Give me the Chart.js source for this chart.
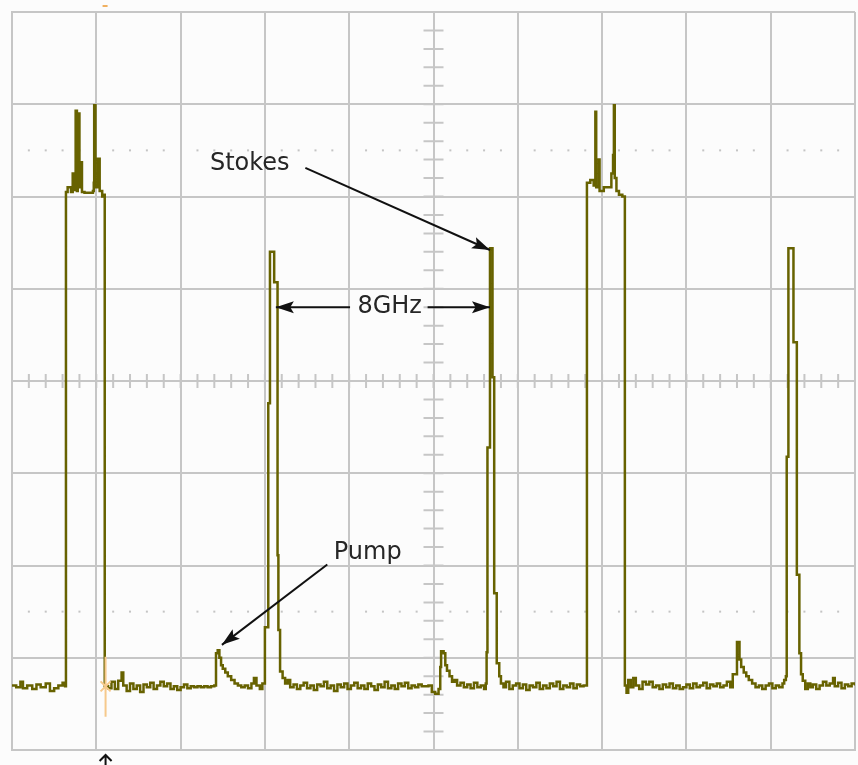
<!DOCTYPE html>
<html>
<head>
<meta charset="utf-8">
<title>Stokes / Pump</title>
<script src="https://cdn.jsdelivr.net/npm/chart.js@4/dist/chart.umd.min.js"></script>
<style>
  html, body { margin: 0; padding: 0; background: #fcfcfc; }
  #wrap { width: 858px; height: 765px; position: relative; }
</style>
</head>
<body>
<div id="wrap"><canvas id="scope"></canvas></div>
<script>
// trace, in divisions (x: 0..10, y: 0..8 from the bottom)
const traceX = [
  0.00, 0.05, 0.10, 0.13, 0.18, 0.24, 0.29, 0.34, 0.40, 0.45, 0.50, 0.55, 0.60, 0.63,
  // first pump pulse
  0.64, 0.66, 0.70, 0.72, 0.74, 0.755, 0.77, 0.78, 0.80, 0.81, 0.83, 0.86, 0.92, 0.96,
  0.97, 0.975, 0.99, 1.02, 1.04, 1.07, 1.09,
  // baseline
  1.10, 1.14, 1.18, 1.22, 1.26, 1.30, 1.32, 1.36, 1.40, 1.44, 1.48, 1.52, 1.56, 1.60,
  1.64, 1.68, 1.72, 1.76, 1.80, 1.84, 1.88, 1.92, 1.96, 2.00, 2.04, 2.08, 2.12, 2.16,
  2.20, 2.24, 2.28, 2.32, 2.36, 2.40,
  // small pump peak
  2.42, 2.44, 2.46, 2.48, 2.50, 2.53, 2.56, 2.60, 2.64, 2.68, 2.72, 2.76, 2.80, 2.84,
  2.87, 2.90, 2.94, 2.97, 2.99,
  // first stokes line
  3.00, 3.04, 3.06, 3.11, 3.15, 3.16, 3.18,
  // baseline
  3.21, 3.24, 3.27, 3.30, 3.34, 3.38, 3.42, 3.46, 3.50, 3.54, 3.58, 3.62, 3.66, 3.70,
  3.74, 3.78, 3.82, 3.86, 3.90, 3.94, 3.98, 4.02, 4.06, 4.10, 4.14, 4.18, 4.22, 4.26,
  4.30, 4.34, 4.38, 4.42, 4.46, 4.50, 4.54, 4.58, 4.62, 4.66, 4.70, 4.74, 4.78, 4.82,
  4.86, 4.90, 4.94, 4.98, 5.02, 5.06,
  // small pump peak
  5.08, 5.09, 5.12, 5.14, 5.16, 5.19, 5.22, 5.25, 5.28, 5.32, 5.36, 5.40, 5.44, 5.48,
  5.52, 5.56, 5.60, 5.62,
  // second stokes line
  5.63, 5.64, 5.67, 5.70, 5.72, 5.75, 5.78, 5.80,
  // baseline
  5.83, 5.86, 5.90, 5.94, 5.98, 6.02, 6.06, 6.10, 6.14, 6.18, 6.22, 6.26, 6.30, 6.34,
  6.38, 6.42, 6.46, 6.50, 6.54, 6.58, 6.62, 6.66, 6.70, 6.74, 6.78,
  // second pump pulse
  6.82, 6.86, 6.90, 6.92, 6.93, 6.96, 6.97, 7.02, 7.08, 7.11, 7.13, 7.14, 7.15, 7.17,
  7.20, 7.24,
  // baseline
  7.27, 7.29, 7.31, 7.34, 7.37, 7.40, 7.44, 7.48, 7.52, 7.56, 7.60, 7.64, 7.68, 7.72,
  7.76, 7.80, 7.84, 7.88, 7.92, 7.96, 8.00, 8.04, 8.08, 8.12, 8.16, 8.20, 8.24, 8.28,
  8.32, 8.36, 8.40, 8.44, 8.48, 8.52,
  // small pump peak
  8.55, 8.60, 8.63, 8.65, 8.68, 8.71, 8.74, 8.78, 8.82, 8.86, 8.90, 8.94, 8.98, 9.02,
  9.06, 9.10, 9.14, 9.16,
  // third stokes line
  9.18, 9.19, 9.21, 9.27, 9.31, 9.34, 9.36, 9.38,
  // baseline
  9.41, 9.44, 9.47, 9.50, 9.54, 9.58, 9.62, 9.66, 9.70, 9.74, 9.76, 9.80, 9.84, 9.88,
  9.92, 9.96, 10.00
];

const traceY = [
  0.70, 0.68, 0.74, 0.67, 0.70, 0.66, 0.71, 0.68, 0.72, 0.64, 0.67, 0.70, 0.73, 0.69,
  6.05, 6.10, 6.05, 6.25, 6.07, 6.93, 6.06, 6.90, 6.10, 6.37, 6.05, 6.04, 6.04, 6.06,
  6.15, 6.99, 6.10, 6.41, 6.06, 6.00, 6.02,
  0.69, 0.67, 0.74, 0.66, 0.75, 0.84, 0.70, 0.64, 0.72, 0.66, 0.70, 0.63, 0.71, 0.68,
  0.73, 0.66, 0.70, 0.74, 0.69, 0.72, 0.66, 0.69, 0.65, 0.68, 0.71, 0.67, 0.69, 0.68,
  0.69, 0.68, 0.69, 0.68, 0.69, 0.70,
  1.05, 1.08, 1.00, 0.92, 0.88, 0.84, 0.80, 0.76, 0.72, 0.70, 0.68, 0.70, 0.67, 0.72,
  0.78, 0.70, 0.66, 0.72, 0.72,
  1.33, 3.76, 5.40, 5.07, 2.11, 1.30, 0.85,
  0.78, 0.72, 0.76, 0.68, 0.71, 0.66, 0.70, 0.73, 0.67, 0.70, 0.65, 0.71, 0.69, 0.74,
  0.67, 0.70, 0.64, 0.71, 0.68, 0.72, 0.66, 0.70, 0.73, 0.67, 0.70, 0.66, 0.72, 0.69,
  0.65, 0.71, 0.68, 0.74, 0.67, 0.70, 0.66, 0.72, 0.69, 0.73, 0.67, 0.70, 0.68, 0.71,
  0.69, 0.69, 0.70, 0.63, 0.61, 0.66,
  0.90, 1.07, 1.05, 0.92, 0.86, 0.80, 0.74, 0.76, 0.70, 0.73, 0.68, 0.71, 0.67, 0.73,
  0.68, 0.70, 0.66, 0.72,
  1.06, 3.28, 5.44, 4.04, 1.70, 0.94, 0.80, 0.72,
  0.68, 0.74, 0.66, 0.70, 0.72, 0.67, 0.71, 0.65, 0.70, 0.68, 0.73, 0.66, 0.70, 0.67,
  0.72, 0.69, 0.74, 0.66, 0.70, 0.68, 0.72, 0.67, 0.71, 0.69, 0.70,
  6.15, 6.18, 6.12, 6.92, 6.10, 6.40, 6.06, 6.10, 6.10, 6.25, 6.45, 6.99, 6.20, 6.06,
  6.02, 6.00,
  0.70, 0.62, 0.76, 0.68, 0.78, 0.70, 0.66, 0.74, 0.71, 0.74, 0.68, 0.70, 0.66, 0.71,
  0.68, 0.72, 0.67, 0.70, 0.66, 0.68, 0.71, 0.67, 0.72, 0.68, 0.70, 0.73, 0.67, 0.71,
  0.69, 0.72, 0.68, 0.70, 0.74, 0.68,
  0.82, 1.17, 0.98, 0.90, 0.84, 0.80, 0.76, 0.72, 0.68, 0.70, 0.66, 0.70, 0.72, 0.67,
  0.70, 0.68, 0.72, 0.76,
  0.80, 3.18, 5.44, 4.42, 1.90, 1.05, 0.82, 0.75,
  0.66, 0.72, 0.68, 0.71, 0.66, 0.70, 0.74, 0.70, 0.72, 0.78, 0.69, 0.73, 0.67, 0.71,
  0.69, 0.72, 0.70
];

// graticule: 10 x 8 divisions
const xDivs = 10;
const yDivs = 8;

// cursor position (divisions)
const cursorX = 1.11;
const cursorY = 0.69;

// labels
const labelStokes = 'Stokes';
const labelSpacing = '8GHz';
const labelPump = 'Pump';

const traceColor = '#676200';
const gridColor = '#c6c6c6';

const points = traceX.map((x, i) => ({ x: x, y: traceY[i] }));

function arrowHead(ctx, x0, y0, x1, y1) {
    const ang = Math.atan2(y1 - y0, x1 - x0);
    const len = 18, half = 6;
    const c = Math.cos(ang), s = Math.sin(ang);
    ctx.beginPath();
    ctx.moveTo(x1, y1);
    ctx.lineTo(x1 - len * c + half * s, y1 - len * s - half * c);
    ctx.lineTo(x1 - len * c * 0.8, y1 - len * s * 0.8);
    ctx.lineTo(x1 - len * c - half * s, y1 - len * s + half * c);
    ctx.closePath();
    ctx.fill();
}

function arrow(ctx, x0, y0, x1, y1) {
    ctx.beginPath();
    ctx.moveTo(x0, y0);
    ctx.lineTo(x1, y1);
    ctx.stroke();
    arrowHead(ctx, x0, y0, x1, y1);
}

// graticule extras: centre-line minor ticks and the dotted rows
const graticulePlugin = {
    id: 'graticule',
    beforeDatasetsDraw(chart) {
        const ctx = chart.ctx;
        const xs = chart.scales.x, ys = chart.scales.y;
        const cx = xs.getPixelForValue(xDivs / 2);
        const cy = ys.getPixelForValue(yDivs / 2);
        ctx.save();
        ctx.strokeStyle = gridColor;
        ctx.lineWidth = 2;
        ctx.beginPath();
        for (let i = 1; i < xDivs * 5; i++) {
            const px = xs.getPixelForValue(i / 5);
            ctx.moveTo(px, cy - 7);
            ctx.lineTo(px, cy + 7);
        }
        for (let i = 1; i < yDivs * 5; i++) {
            const py = ys.getPixelForValue(i / 5);
            ctx.moveTo(cx - 10, py);
            ctx.lineTo(cx + 10, py);
        }
        ctx.stroke();

        ctx.fillStyle = '#c4c4c4';
        [1.5, yDivs - 1.5].forEach(v => {
            const py = ys.getPixelForValue(v);
            for (let i = 1; i < xDivs * 5; i++) {
                if (i % 5 === 0) continue;
                const px = xs.getPixelForValue(i / 5);
                ctx.fillRect(px - 1, py - 1, 2, 2);
            }
        });
        ctx.restore();
    }
};

// cursor marker and the hand-drawn labels with arrows
const notesPlugin = {
    id: 'notes',
    afterDatasetsDraw(chart) {
        const ctx = chart.ctx;
        const xs = chart.scales.x, ys = chart.scales.y;
        const X = v => xs.getPixelForValue(v);
        const Y = v => ys.getPixelForValue(v);
        const area = chart.chartArea;
        ctx.save();

        // cursor
        const kx = X(cursorX), ky = Y(cursorY);
        ctx.strokeStyle = '#f6c98c';
        ctx.lineWidth = 2;
        ctx.beginPath();
        ctx.moveTo(kx, Y(1.01));
        ctx.lineTo(kx, Y(0.36));
        ctx.moveTo(kx - 5, ky - 5);
        ctx.lineTo(kx + 5, ky + 5);
        ctx.moveTo(kx + 5, ky - 5);
        ctx.lineTo(kx - 5, ky + 5);
        ctx.stroke();
        ctx.fillStyle = '#f0b060';
        ctx.fillRect(kx - 3, area.top - 7, 5, 2);

        // trigger arrow under the screen
        ctx.strokeStyle = '#111';
        ctx.lineWidth = 2;
        ctx.beginPath();
        ctx.moveTo(kx, area.bottom + 16);
        ctx.lineTo(kx, area.bottom + 5);
        ctx.moveTo(kx - 6, area.bottom + 11);
        ctx.lineTo(kx, area.bottom + 5);
        ctx.lineTo(kx + 6, area.bottom + 11);
        ctx.stroke();

        // labels
        ctx.font = '24px "DejaVu Sans", sans-serif';
        ctx.fillStyle = '#262626';
        ctx.textAlign = 'center';
        ctx.textBaseline = 'middle';
        ctx.fillText(labelStokes, X(2.82), Y(6.36));
        ctx.fillText(labelSpacing, X(4.48), Y(4.81));
        ctx.fillText(labelPump, X(4.22), Y(2.14));

        ctx.strokeStyle = '#111';
        ctx.fillStyle = '#111';
        ctx.lineWidth = 2;
        arrow(ctx, X(3.48), Y(6.31), X(5.67), Y(5.42));
        arrow(ctx, X(4.01), Y(4.80), X(3.13), Y(4.80));
        arrow(ctx, X(4.93), Y(4.80), X(5.67), Y(4.80));
        arrow(ctx, X(3.74), Y(2.01), X(2.49), Y(1.14));
        ctx.restore();
    }
};

new Chart(document.getElementById('scope'), {
    type: 'line',
    data: {
        datasets: [{
            data: points,
            borderColor: traceColor,
            borderWidth: 2.5,
            pointRadius: 0,
            stepped: true,
            fill: false
        }]
    },
    options: {
        responsive: true,
        maintainAspectRatio: false,
        animation: false,
        layout: { padding: { left: 12, top: 12, right: 3, bottom: 15 } },
        plugins: {
            legend: { display: false },
            tooltip: { enabled: false }
        },
        scales: {
            x: {
                type: 'linear',
                min: 0,
                max: xDivs,
                ticks: { display: false, stepSize: 1 },
                grid: { color: gridColor, lineWidth: 2, drawTicks: false },
                border: { color: gridColor, width: 2 }
            },
            y: {
                min: 0,
                max: yDivs,
                ticks: { display: false, stepSize: 1 },
                grid: { color: gridColor, lineWidth: 2, drawTicks: false },
                border: { color: gridColor, width: 2 }
            }
        }
    },
    plugins: [graticulePlugin, notesPlugin]
});
</script>
</body>
</html>
